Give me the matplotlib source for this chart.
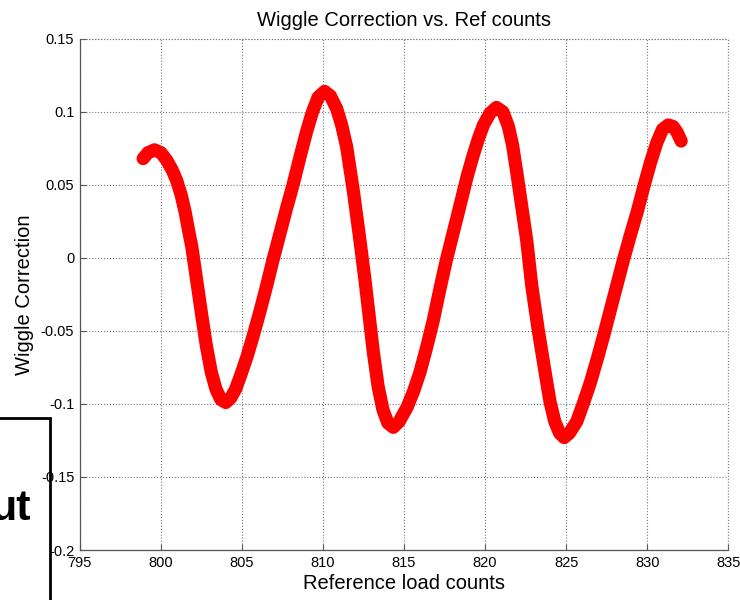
import matplotlib
matplotlib.use("Agg")
from matplotlib import pyplot as plt
from matplotlib.patches import Rectangle

plt.rcParams['font.family'] = ['Liberation Sans', 'DejaVu Sans']

# reference load counts vs wiggle correction
ref_counts = [798.9, 799.2, 799.6, 800.0, 800.35, 800.7, 800.97, 801.25, 801.5, 801.7,
              801.9, 802.2, 802.5, 802.8, 803.1, 803.4, 803.7, 804.0, 804.3, 804.6,
              804.9, 805.3, 805.7, 806.1, 806.5, 806.9, 807.35, 807.75, 808.15, 808.6,
              809.0, 809.35, 809.7, 810.1, 810.45, 810.85, 811.15, 811.46, 811.87, 812.28,
              812.6, 812.85, 813.1, 813.4, 813.7, 814.0, 814.34, 814.7, 815.2, 815.6,
              815.99, 816.4, 816.8, 817.2, 817.6, 818.05, 818.5, 818.9, 819.26, 819.6,
              819.9, 820.3, 820.7, 821.1, 821.44, 821.7, 821.95, 822.2, 822.57, 822.88,
              823.29, 823.7, 824.0, 824.3, 824.6, 824.88, 825.2, 825.66, 826.05, 826.48,
              826.9, 827.3, 827.7, 828.1, 828.5, 828.95, 829.4, 829.8, 830.2, 830.6,
              830.95, 831.3, 831.6, 831.85, 832.1]
wiggle = [0.068, 0.072, 0.074, 0.072, 0.067, 0.060, 0.053, 0.043, 0.031, 0.019,
          0.008, -0.015, -0.038, -0.060, -0.078, -0.090, -0.097, -0.099, -0.096, -0.090,
          -0.081, -0.068, -0.053, -0.037, -0.020, -0.002, 0.017, 0.034, 0.050, 0.070,
          0.087, 0.100, 0.110, 0.114, 0.111, 0.102, 0.091, 0.076, 0.046, 0.012,
          -0.016, -0.040, -0.064, -0.088, -0.104, -0.113, -0.116, -0.112, -0.102, -0.091,
          -0.078, -0.061, -0.043, -0.022, -0.002, 0.018, 0.038, 0.056, 0.070, 0.082,
          0.091, 0.099, 0.103, 0.100, 0.090, 0.077, 0.059, 0.040, 0.012, -0.019,
          -0.050, -0.078, -0.098, -0.112, -0.120, -0.123, -0.120, -0.112, -0.100, -0.086,
          -0.070, -0.054, -0.037, -0.020, -0.003, 0.015, 0.032, 0.049, 0.065, 0.079,
          0.088, 0.091, 0.090, 0.086, 0.080]

xticks = list(range(795, 836, 5))
yticks = [-0.2, -0.15, -0.1, -0.05, 0, 0.05, 0.1, 0.15]
ytick_labels = ['-0.2', '-0.15', '-0.1', '-0.05', '0', '0.05', '0.1', '0.15']

fig = plt.figure(figsize=(7.4, 6), dpi=100)
ax = fig.add_axes([0.108, 0.0833, 0.876, 0.852])

ax.plot(ref_counts, wiggle, color='red', lw=9.5, solid_capstyle='round',
        solid_joinstyle='round')

ax.set_xlim(795, 835)
ax.set_ylim(-0.2, 0.15)
ax.set_xticks(xticks)
ax.set_xticklabels([str(t) for t in xticks], fontsize=10.5)
ax.set_yticks(yticks)
ax.set_yticklabels(ytick_labels, fontsize=10.5)
ax.tick_params(direction='in', length=4, width=0.8, color='#555555', pad=4)

ax.grid(True, linestyle=':', color='#777777', lw=0.8)
for s in ['top', 'right']:
    ax.spines[s].set_visible(False)
for s in ['left', 'bottom']:
    ax.spines[s].set_color('#555555')
    ax.spines[s].set_linewidth(0.9)
# dotted lines on the open sides of the box
ax.axhline(0.15, linestyle=':', color='#777777', lw=0.8, clip_on=False)
ax.axvline(835, linestyle=':', color='#777777', lw=0.8, clip_on=False)

ax.set_title('Wiggle Correction vs. Ref counts', fontsize=14.5, pad=9)
ax.set_xlabel('Reference load counts', fontsize=14.5, labelpad=3)
ax.set_ylabel('Wiggle Correction', fontsize=14.5, labelpad=5)

# slide text box overlapping the lower left corner
fig.patches.append(Rectangle((-10 / 740, -0.05), 60 / 740, (600 - 418) / 600 + 0.05,
                             transform=fig.transFigure, fill=False, ec='black',
                             lw=2, zorder=-1))
fig.text(31 / 740, (600 - 520) / 600, 'ut', fontsize=31, fontweight='bold',
         ha='right', va='baseline')

plt.savefig('out.png', dpi=100)
